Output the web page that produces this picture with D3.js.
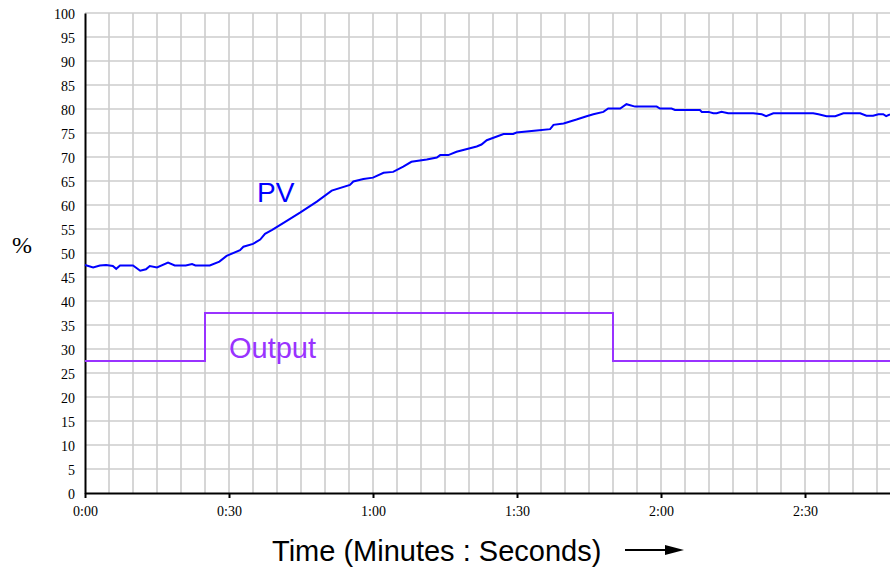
<!DOCTYPE html>
<html>
<head>
<meta charset="utf-8">
<script src="https://cdn.jsdelivr.net/npm/d3@7"></script>
<style>
  body { margin: 0; background: #fff; }
  svg { display: block; }
</style>
</head>
<body>
<div id="container"></div>
<script>
// PV trend (seconds, percent)
var pvTime = [0, 1.7, 3.1, 4.4, 5.8, 6.5, 7.3, 10, 11.5, 12.7, 13.5, 15, 17.3, 18.7, 21, 22.3, 23, 26, 28, 29.5,
  32.3, 33, 35, 36.5, 37.5, 39, 41.7, 44.8, 48.3, 51.4, 55.2, 55.9, 58, 60, 62.2, 64.2, 66.3, 68, 71.2, 73.3,
  74, 75.7, 77.4, 81.6, 82.6, 83.7, 87.2, 89.2, 89.9, 94.1, 96.9, 97.6, 99.7, 102.4, 104.5, 105.9, 108, 109, 111.5, 112.8,
  114.6, 119.1, 119.8, 122.2, 122.9, 128.1, 128.5, 129.9, 130.9, 131.6, 132.6, 134, 139.2, 141, 141.9, 143.4, 151.7, 152.8, 154.5, 156.3,
  158, 161.5, 162.8, 164.2, 165.3, 166.3, 166.9, 167.7]
var pvValue = [47.5, 47.0, 47.4, 47.5, 47.3, 46.7, 47.4, 47.4, 46.3, 46.6, 47.3, 47.0, 48.0, 47.4, 47.4, 47.7, 47.4, 47.4, 48.2, 49.4,
  50.6, 51.3, 51.9, 52.8, 54.0, 54.8, 56.5, 58.4, 60.7, 63.0, 64.2, 64.9, 65.4, 65.7, 66.7, 66.9, 68.0, 69.0, 69.5, 69.9,
  70.4, 70.4, 71.1, 72.2, 72.6, 73.5, 74.8, 74.8, 75.1, 75.5, 75.8, 76.7, 77.0, 77.8, 78.5, 78.9, 79.4, 80.1, 80.1, 81.0,
  80.5, 80.5, 80.1, 80.1, 79.8, 79.8, 79.4, 79.4, 79.1, 79.1, 79.4, 79.1, 79.1, 78.9, 78.5, 79.1, 79.1, 78.9, 78.5, 78.5,
  79.1, 79.1, 78.6, 78.6, 78.9, 78.9, 78.5, 78.9]

// controller output, step changes
var outTime = [0, 25, 110, 170]
var outValue = [27.5, 37.5, 27.5, 27.5]

var yTicks = d3.range(0, 101, 5)
var xTicks = [0, 30, 60, 90, 120, 150]
var xTickLabels = ["0:00", "0:30", "1:00", "1:30", "2:00", "2:30"]

var width = 890
var height = 567
var plotLeft = 85, plotTop = 13, plotBottom = 493

var x = d3.scaleLinear().domain([0, 170]).range([plotLeft, plotLeft + 170 * 4.8])
var y = d3.scaleLinear().domain([0, 100]).range([plotBottom, plotTop])

var svg = d3.select("#container")
  .append("svg")
  .attr("width", width)
  .attr("height", height)

// grid
svg.append("g")
  .selectAll("line")
  .data(d3.range(5, 170, 5))
  .enter()
  .append("line")
  .attr("x1", function(d) { return x(d) })
  .attr("x2", function(d) { return x(d) })
  .attr("y1", plotTop)
  .attr("y2", plotBottom)
  .attr("stroke", "#cccccc")
  .attr("stroke-width", 1.6)

svg.append("g")
  .selectAll("line")
  .data(yTicks.slice(1))
  .enter()
  .append("line")
  .attr("x1", plotLeft)
  .attr("x2", width)
  .attr("y1", function(d) { return y(d) })
  .attr("y2", function(d) { return y(d) })
  .attr("stroke", "#cccccc")
  .attr("stroke-width", 1.6)

// y axis
var yAxis = d3.axisLeft(y).tickValues(yTicks).tickSize(0).tickPadding(10)
var gy = svg.append("g").attr("transform", "translate(" + plotLeft + ",0)").call(yAxis)
gy.select(".domain").attr("stroke", "#000").attr("stroke-width", 2)
gy.selectAll("text")
  .attr("font-family", "'Liberation Serif', 'Times New Roman', serif")
  .attr("font-size", 14)
  .attr("fill", "#000")
  .attr("dy", "0.4em")

// x axis
var xAxis = d3.axisBottom(x).tickValues(xTicks)
  .tickFormat(function(d, i) { return xTickLabels[i] })
  .tickSize(5).tickSizeOuter(0).tickPadding(8)
var gx = svg.append("g").attr("transform", "translate(0," + plotBottom + ")").call(xAxis)
gx.select(".domain").attr("stroke", "#000").attr("stroke-width", 2)
gx.selectAll(".tick line").attr("stroke", "#000").attr("stroke-width", 2)
gx.selectAll("text")
  .attr("font-family", "'Liberation Serif', 'Times New Roman', serif")
  .attr("font-size", 14)
  .attr("fill", "#000")

// output trace
var outLine = d3.line()
  .x(function(d, i) { return x(outTime[i]) })
  .y(function(d, i) { return y(outValue[i]) })
  .curve(d3.curveStepAfter)
svg.append("path")
  .attr("d", outLine(outTime))
  .attr("fill", "none")
  .attr("stroke", "#9933ff")
  .attr("stroke-width", 2)

// PV trace
var pvLine = d3.line()
  .x(function(d, i) { return x(pvTime[i]) })
  .y(function(d, i) { return y(pvValue[i]) })
svg.append("path")
  .attr("d", pvLine(pvTime))
  .attr("fill", "none")
  .attr("stroke", "#0000ff")
  .attr("stroke-width", 2)

// labels
svg.append("text")
  .attr("x", 257).attr("y", 202)
  .attr("font-family", "'Liberation Sans', Arial, sans-serif")
  .attr("font-size", 28)
  .attr("fill", "#0000ff")
  .text("PV")

svg.append("text")
  .attr("x", 229).attr("y", 358)
  .attr("font-family", "'Liberation Sans', Arial, sans-serif")
  .attr("font-size", 29)
  .attr("fill", "#9933ff")
  .text("Output")

svg.append("text")
  .attr("x", 12).attr("y", 253)
  .attr("font-family", "'Liberation Serif', 'Times New Roman', serif")
  .attr("font-size", 24)
  .attr("fill", "#000")
  .text("%")

svg.append("text")
  .attr("x", 272).attr("y", 561)
  .attr("font-family", "'Liberation Sans', Arial, sans-serif")
  .attr("font-size", 29)
  .attr("fill", "#000")
  .text("Time (Minutes : Seconds)")

// arrow after the axis title
svg.append("line")
  .attr("x1", 625).attr("x2", 670)
  .attr("y1", 550).attr("y2", 550)
  .attr("stroke", "#000")
  .attr("stroke-width", 2)
svg.append("path")
  .attr("d", "M 665 545 L 684 550 L 665 555 Z")
  .attr("fill", "#000")
</script>
</body>
</html>
